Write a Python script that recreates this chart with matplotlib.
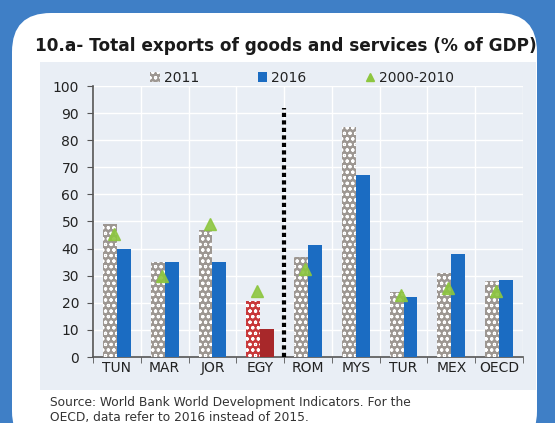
import numpy as np
import matplotlib
matplotlib.use("Agg")
import matplotlib.pyplot as plt
from matplotlib.patches import FancyBboxPatch, Rectangle
from matplotlib.lines import Line2D

plt.rcParams['font.family'] = ['DejaVu Sans']
plt.rcParams['hatch.linewidth'] = 0.8

categories = ["TUN", "MAR", "JOR", "EGY", "ROM", "MYS", "TUR", "MEX", "OECD"]
v2011 = [49, 35, 47, 20.5, 37, 85, 24, 31, 28]
v2016 = [40, 35, 35, 10.5, 41.5, 67, 22, 38, 28.5]
v2000_2010 = [45.5, 30, 49, 24.5, 32.5, np.nan, 23, 25.5, 24.5]
separator_top = 92

title = "10.a- Total exports of goods and services (% of GDP)"
source = ("Source: World Bank World Development Indicators. For the\n"
          "OECD, data refer to 2016 instead of 2015.")

W, H = 555, 423
fig = plt.figure(figsize=(W / 100, H / 100), dpi=100)
fig.patch.set_facecolor('#3f7fc6')

def fx(px):
    return px / W

def fy(py):
    return 1 - py / H

# white rounded card
card = FancyBboxPatch((fx(12), fy(450)), fx(537) - fx(12), fy(13) - fy(450),
                      boxstyle="round,pad=0,rounding_size=0.07",
                      transform=fig.transFigure, facecolor='white',
                      edgecolor='none', mutation_aspect=W / H, zorder=-3)
fig.patches.append(card)

# light chart panel
panel_col = '#e9eef5'
panel = Rectangle((fx(40), fy(390)), fx(536) - fx(40), fy(62) - fy(390),
                  transform=fig.transFigure, facecolor=panel_col,
                  edgecolor='none', zorder=-2)
fig.patches.append(panel)

fig.text(fx(35), fy(46), title, fontsize=12.2, fontweight='bold',
         color='#1a1a1a', va='center', ha='left')
fig.text(fx(50), fy(396), source, fontsize=8.8, color='#333333',
         va='top', ha='left', linespacing=1.15)

ax = fig.add_axes([fx(93), fy(357), fx(523) - fx(93), fy(86) - fy(357)])
ax.set_facecolor(panel_col)
x = np.arange(len(categories))
w = 0.29

col2011 = ['#9d9792'] * len(categories)
col2016 = ['#1b6cc2'] * len(categories)
col2011[3] = '#c8383a'
col2016[3] = '#a8282a'

ax.bar(x - w / 2, v2011, w, color=col2011, hatch='ooo', edgecolor='white',
       linewidth=0, zorder=3)
ax.bar(x + w / 2, v2016, w, color=col2016, edgecolor='none', zorder=3)
ax.plot(x - 0.06, v2000_2010, linestyle='none', marker='^', markersize=8,
        color='#8dc63f', alpha=0.9, zorder=4)
ax.plot([3.5, 3.5], [0, separator_top], color='black', linestyle=(0, (1, 0.8)),
        linewidth=3, zorder=5)

ax.set_xlim(-0.5, len(categories) - 0.5)
ax.set_ylim(0, 100)
ax.set_yticks(np.arange(0, 101, 10))
ax.set_xticks(x)
ax.set_xticklabels(categories)
ax.set_xticks(np.arange(-0.5, len(categories), 1), minor=True)
ax.tick_params(axis='x', which='major', length=0, labelsize=10, pad=3,
               colors='#222222')
ax.tick_params(axis='x', which='minor', length=4, direction='out',
               color='#555555')
ax.tick_params(axis='y', length=4, direction='out', labelsize=10,
               colors='#222222', pad=6, color='#555555')
ax.grid(axis='y', color='white', linewidth=1, zorder=0)
ax.grid(axis='x', which='minor', color='white', linewidth=1, zorder=0)
ax.set_axisbelow(True)
for s in ['top', 'right']:
    ax.spines[s].set_visible(False)
for s in ['left', 'bottom']:
    ax.spines[s].set_color('#555555')
    ax.spines[s].set_linewidth(1.2)

handles = [
    Rectangle((0, 0), 1, 1, facecolor='#9d9792', hatch='ooo', edgecolor='white',
              linewidth=0),
    Rectangle((0, 0), 1, 1, facecolor='#1b6cc2', edgecolor='none'),
    Line2D([], [], linestyle='none', marker='^', markersize=6, color='#8dc63f'),
]
fig.legend(handles, ['2011', '2016', '2000-2010'], ncol=3, frameon=False,
           loc='center', bbox_to_anchor=(fx(302), fy(78)), fontsize=10,
           handlelength=0.7, handleheight=0.7, handletextpad=0.3,
           columnspacing=4.2, labelcolor='#222222')

fig.savefig('out.png', dpi=100, facecolor=fig.get_facecolor())
